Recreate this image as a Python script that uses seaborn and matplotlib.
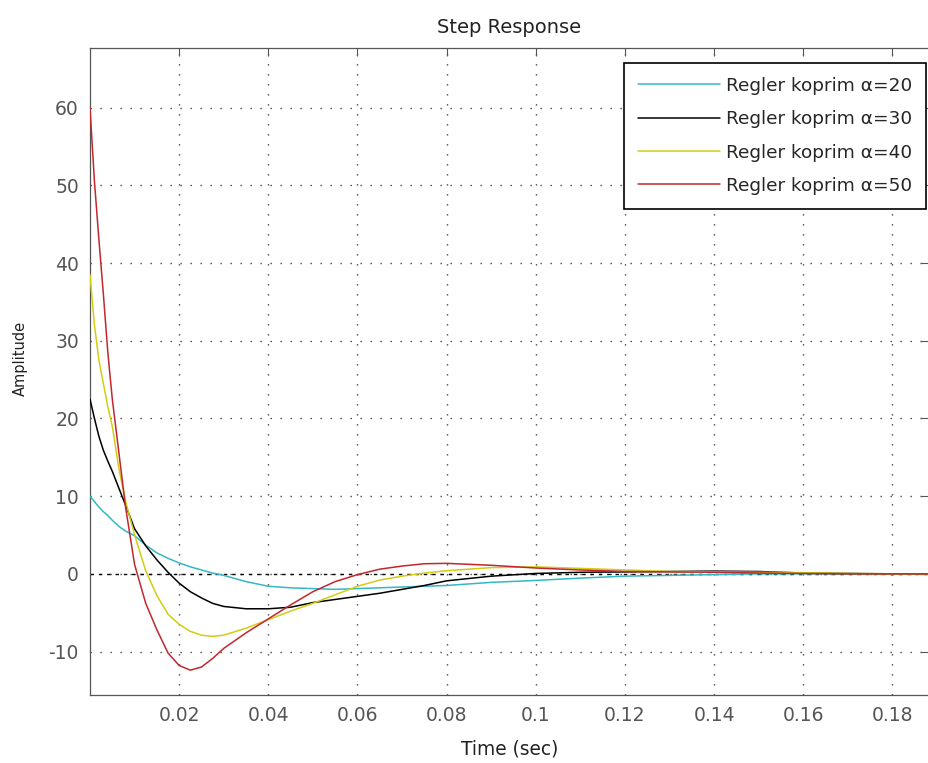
import matplotlib
matplotlib.use("Agg")
import matplotlib.pyplot as plt
import numpy as np
import pandas as pd
import seaborn as sns

# Sample times (s) shared by all four step responses
time = [0.0, 0.001, 0.002, 0.003, 0.004, 0.005, 0.0065, 0.008, 0.01, 0.0125,
        0.015, 0.0175, 0.02, 0.0225, 0.025, 0.0275, 0.03, 0.035, 0.04, 0.045,
        0.05, 0.055, 0.06, 0.065, 0.07, 0.075, 0.08, 0.09, 0.10, 0.11,
        0.12, 0.13, 0.14, 0.15, 0.16, 0.17, 0.18, 0.19]

# Step response amplitude for each coprime controller
alpha20 = [10.0, 9.3, 8.6, 8.0, 7.5, 6.9, 6.1, 5.5, 4.9, 3.7,
           2.7, 2.0, 1.4, 0.9, 0.5, 0.1, -0.2, -1.0, -1.6, -1.8,
           -1.9, -2.0, -1.9, -1.8, -1.7, -1.6, -1.5, -1.1, -0.85, -0.55,
           -0.3, -0.2, -0.1, 0.0, 0.0, 0.0, 0.0, 0.0]
alpha30 = [22.5, 20.0, 17.7, 15.9, 14.5, 13.2, 11.0, 8.8, 5.8, 3.6,
           1.8, 0.2, -1.2, -2.3, -3.1, -3.8, -4.2, -4.5, -4.5, -4.3,
           -3.7, -3.3, -2.9, -2.5, -2.0, -1.5, -0.9, -0.3, 0.05, 0.2,
           0.25, 0.3, 0.35, 0.3, 0.1, 0.05, 0.0, 0.0]
alpha40 = [38.5, 32.0, 27.5, 24.5, 21.5, 19.0, 13.5, 9.3, 5.0, 0.4,
           -2.8, -5.2, -6.5, -7.4, -7.9, -8.05, -7.9, -7.0, -5.9, -4.8,
           -3.8, -2.7, -1.6, -0.8, -0.3, 0.1, 0.4, 0.8, 0.9, 0.7,
           0.5, 0.3, 0.25, 0.2, 0.15, 0.05, 0.0, 0.0]
alpha50 = [60.0, 50.5, 43.0, 36.0, 28.5, 22.5, 15.5, 8.5, 1.2, -3.8,
           -7.2, -10.2, -11.8, -12.4, -12.0, -10.9, -9.6, -7.6, -5.8, -4.0,
           -2.3, -1.0, -0.1, 0.6, 1.0, 1.3, 1.35, 1.1, 0.75, 0.5,
           0.3, 0.25, 0.2, 0.1, 0.05, 0.0, 0.0, 0.0]

labels = ["Regler koprim α=20", "Regler koprim α=30",
          "Regler koprim α=40", "Regler koprim α=50"]
colors = ["#33b8c6", "#000000", "#d2cc12", "#c0282e"]

x_ticks = [0.02, 0.04, 0.06, 0.08, 0.1, 0.12, 0.14, 0.16, 0.18]
y_ticks = [-10, 0, 10, 20, 30, 40, 50, 60]

frames = []
for lab, amp in zip(labels, [alpha20, alpha30, alpha40, alpha50]):
    frames.append(pd.DataFrame({"time": time, "amplitude": amp, "controller": lab}))
df = pd.concat(frames, ignore_index=True)

sns.set_style("white")
plt.rcParams["font.family"] = ["DejaVu Sans"]
plt.rcParams["axes.unicode_minus"] = False

W, H = 929, 763
fig = plt.figure(figsize=(W / 100, H / 100), dpi=100)
ax = fig.add_axes([90 / W, 68 / H, 839 / W, 647 / H])

# steady-state reference line
ax.axhline(0, color="black", lw=1.0, ls=(0, (2.5, 3.5)), zorder=1.5)

sns.lineplot(data=df, x="time", y="amplitude", hue="controller",
             palette=dict(zip(labels, colors)), estimator=None,
             linewidth=1.1, ax=ax, zorder=3)

ax.set_xlim(0, 839 / 4458)
ax.set_ylim(-15.6, 67.7)
ax.set_xticks(x_ticks)
ax.set_xticklabels([f"{v:g}" for v in x_ticks])
ax.set_yticks(y_ticks)

ax.grid(True, ls=(0, (0.9, 6.3)), color="#333333", lw=1.0)
ax.tick_params(direction="in", length=6, width=0.8, color="#555555",
               labelcolor="#555555", labelsize=13.5, top=True, right=True, pad=8)
for sp in ax.spines.values():
    sp.set_color("#555555")
    sp.set_linewidth(0.9)

ax.set_title("Step Response", fontsize=14, pad=11, color="#222222")
ax.set_xlabel("Time (sec)", fontsize=13.4, color="#222222")
ax.xaxis.set_label_coords(0.5, -0.0835)
ax.xaxis.label.set_va("center")
ax.set_ylabel("Amplitude", fontsize=10.5, color="#222222")
ax.yaxis.set_label_coords(-0.083, 0.52)
ax.yaxis.label.set_va("center")

handles, labs = ax.get_legend_handles_labels()
leg = ax.legend(handles, labs, loc="upper right",
                bbox_to_anchor=(926 / W, 1 - 63 / H), bbox_transform=fig.transFigure,
                borderaxespad=0, frameon=True, fancybox=False, edgecolor="black",
                facecolor="white", framealpha=1, fontsize=13.3, handlelength=4.45,
                handletextpad=0.3, labelspacing=0.83, borderpad=0.75)
leg.get_frame().set_linewidth(1.2)

fig.savefig("out.png", dpi=100)
